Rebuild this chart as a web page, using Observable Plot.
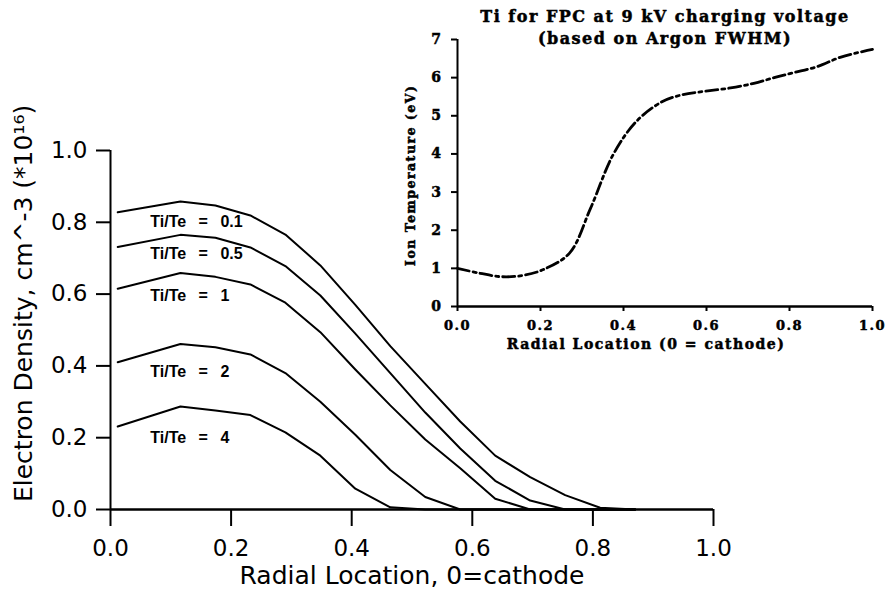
<!DOCTYPE html>
<html>
<head>
<meta charset="utf-8">
<script src="https://cdn.jsdelivr.net/npm/d3@7"></script>
<script src="https://cdn.jsdelivr.net/npm/@observablehq/plot@0.6"></script>
<style>
  html, body { margin: 0; padding: 0; background: #fff; }
  #wrap { position: relative; width: 886px; height: 597px; overflow: hidden; }
  #main, #inset { position: absolute; top: 0; }
  #main { left: 0; }
  #inset { left: 380px; }
  #inset text { letter-spacing: 1.5px; stroke: #000; stroke-width: 0.5px; }
</style>
</head>
<body>
<div id="wrap"><div id="main"></div><div id="inset"></div></div>
<script>
// ---- Main chart data ----
const radial = [0.012, 0.116, 0.174, 0.232, 0.29, 0.348, 0.406, 0.464, 0.522, 0.58, 0.638, 0.696, 0.754, 0.812, 0.87];
const ratioNames = ["0.1", "0.5", "1", "2", "4"];
const dens01 = [0.828, 0.858, 0.847, 0.819, 0.766, 0.68, 0.57, 0.455, 0.35, 0.245, 0.15, 0.09, 0.04, 0.005, 0];
const dens05 = [0.731, 0.765, 0.757, 0.73, 0.678, 0.596, 0.49, 0.38, 0.27, 0.17, 0.08, 0.025, 0, 0, 0];
const dens1  = [0.615, 0.659, 0.648, 0.627, 0.576, 0.494, 0.39, 0.29, 0.195, 0.115, 0.03, 0, 0, 0, 0];
const dens2  = [0.41, 0.461, 0.452, 0.432, 0.38, 0.30, 0.208, 0.11, 0.035, 0, 0, 0, 0, 0, 0];
const dens4  = [0.231, 0.287, 0.276, 0.263, 0.215, 0.15, 0.058, 0.006, 0, 0, 0, 0, 0, 0, 0];
const labelX = 0.066;
const labelY = [0.80, 0.713, 0.596, 0.382, 0.20];
const mainXTicks = [0, 0.2, 0.4, 0.6, 0.8, 1.0];
const mainYTicks = [0, 0.2, 0.4, 0.6, 0.8, 1.0];

// ---- Inset data ----
const insetX = [0, 0.055, 0.108, 0.16, 0.207, 0.27, 0.32, 0.376, 0.43, 0.49, 0.537, 0.594, 0.658, 0.714, 0.763, 0.81, 0.867, 0.924, 1.0];
const insetT = [1.0, 0.87, 0.78, 0.82, 0.97, 1.4, 2.56, 4.0, 4.84, 5.35, 5.54, 5.64, 5.73, 5.85, 6.0, 6.13, 6.29, 6.54, 6.74];
const insetXTicks = [0, 0.2, 0.4, 0.6, 0.8, 1.0];
const insetYTicks = [0, 1, 2, 3, 4, 5, 6, 7];

const seriesVals = [dens01, dens05, dens1, dens2, dens4];
const curves = [];
seriesVals.forEach((vals, k) => vals.forEach((v, i) => curves.push({r: radial[i], n: v, s: ratioNames[k]})));
const labels = ratioNames.map((n, k) => ({x: labelX, y: labelY[k], t: "Ti/Te\u2002\u00a0=\u2002\u00a0" + n}));

const mainPlot = Plot.plot({
  width: 886, height: 597,
  marginLeft: 110, marginRight: 173, marginTop: 150, marginBottom: 88,
  x: {domain: [0, 1]},
  y: {domain: [0, 1]},
  style: {fontFamily: "DejaVu Sans", fontSize: "23px", background: "transparent", color: "#000"},
  marks: [
    Plot.axisX({ticks: mainXTicks, tickSize: 17, tickPadding: 13, tickFormat: d3.format(".1f"), label: null, strokeWidth: 2, fontSize: 23}),
    Plot.axisY({ticks: mainYTicks, tickSize: 14, tickPadding: 9, tickFormat: d3.format(".1f"), label: null, strokeWidth: 2, fontSize: 23}),
    Plot.ruleX([0], {strokeWidth: 2}),
    Plot.ruleY([0], {strokeWidth: 2.5}),
    Plot.line(curves, {x: "r", y: "n", z: "s", stroke: "#000", strokeWidth: 2}),
    Plot.text(labels, {x: "x", y: "y", text: "t", textAnchor: "start", fontFamily: "Liberation Sans", fontWeight: "bold", fontSize: 16}),
    Plot.text(["Radial Location, 0=cathode"], {frameAnchor: "bottom", dy: 74, fontSize: 25}),
    Plot.text(["Electron Density, cm^-3 (*10\u00b9\u2076)"], {x: () => -0.144, y: () => 0.574, rotate: -90, fontSize: 25, clip: false})
  ]
});
document.getElementById("main").appendChild(mainPlot);

const insetData = insetX.map((x, i) => ({x, t: insetT[i]}));
const serif = "DejaVu Serif";
const insetPlot = Plot.plot({
  width: 506, height: 370,
  marginLeft: 77, marginRight: 14, marginTop: 39, marginBottom: 64,
  x: {domain: [0, 1]},
  y: {domain: [0, 7]},
  style: {fontFamily: serif, fontWeight: "bold", fontSize: "13px", background: "transparent", color: "#000"},
  marks: [
    Plot.axisX({ticks: insetXTicks, tickSize: 5, tickPadding: 9, tickFormat: d3.format(".1f"), label: null, strokeWidth: 2, fontSize: 13, fontWeight: "bold"}),
    Plot.axisY({ticks: insetYTicks, tickSize: 6, tickPadding: 9, tickFormat: d3.format("d"), label: null, strokeWidth: 2, fontSize: 14, fontWeight: "bold"}),
    Plot.ruleX([0], {strokeWidth: 2}),
    Plot.ruleY([0], {strokeWidth: 2.5}),
    Plot.line(insetData, {x: "x", y: "t", stroke: "#000", strokeWidth: 2.8, curve: "catmull-rom", strokeDasharray: "12 4 3 4"}),
    Plot.text(["Ti for FPC at 9 kV charging voltage"], {frameAnchor: "top", dy: -29, fontSize: 16, fontWeight: "bold", fontFamily: serif}),
    Plot.text(["(based on Argon FWHM)"], {frameAnchor: "top", dy: -7, fontSize: 16, fontWeight: "bold", fontFamily: serif}),
    Plot.text(["Radial Location (0 = cathode)"], {frameAnchor: "bottom", dx: -19, dy: 42, fontSize: 14, fontWeight: "bold", fontFamily: serif}),
    Plot.text(["Ion Temperature (eV)"], {x: () => -0.113, y: () => 3.44, rotate: -90, fontSize: 12.5, fontWeight: "bold", fontFamily: serif, clip: false})
  ]
});
document.getElementById("inset").appendChild(insetPlot);
</script>
</body>
</html>
